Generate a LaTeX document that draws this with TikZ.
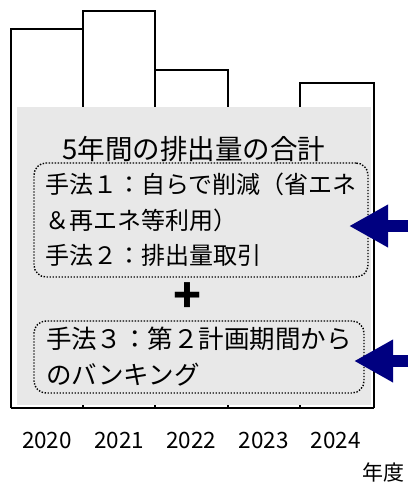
\documentclass[tikz,border=0pt]{standalone}
\usepackage{fontspec}
\setmainfont{Noto Sans CJK JP}
\usetikzlibrary{arrows.meta}
\definecolor{panel}{HTML}{E8E8E8}
\definecolor{navyarrow}{HTML}{000080}
\begin{document}
\begin{tikzpicture}[x={(1pt,0pt)}, y={(0pt,-1pt)},
    bar/.style={draw=black, line width=1.2pt},
    method/.style={draw=black, line width=1.4pt, dash pattern=on 1.4pt off 1.6pt,
        rounded corners=12pt, align=left, inner sep=0pt,
        font=\fontsize{24}{35.5}\selectfont},
    bigarrow/.style={navyarrow, line width=12pt, -{Triangle[length=39pt,width=40pt]}}]
    \useasboundingbox (0,0) rectangle (408,483);

    \foreach \xa/\xb/\h in {11/83/29, 83/155/11, 155/228/70, 228/300/112, 300/374/83}
        \draw[bar] (\xa,408) -- (\xa,\h) -- (\xb,\h) -- (\xb,408);
    \draw[bar] (11,408) -- (374,408);

    \fill[panel] (17,107) rectangle (371,405);

    \node (title) at (194,149) {\fontsize{27.5}{30}\selectfont 5年間の排出量の合計};
    \node[method, minimum width=334, minimum height=114] (m1) at (201,220)
        {手法１：自らで削減（省エネ\\＆再エネ等利用）\\手法２：排出量取引};
    \node (plus) at (188,298) {\fontsize{46}{46}\selectfont\bfseries +};
    \node[method, font=\fontsize{25.5}{36}\selectfont, minimum width=330, minimum height=72] (m2) at (199,357)
        {手法３：第２計画期間から\\のバンキング};

    \coordinate (a1) at (408,226);
    \coordinate (t1) at (349,226);
    \draw[bigarrow] (a1) -- (t1);
    \coordinate (a2) at (408,361);
    \coordinate (t2) at (354,361);
    \draw[bigarrow] (a2) -- (t2);

    \foreach \yr [count=\i] in {2020,2021,2022,2023,2024}
        \node[font=\fontsize{22.5}{24}\selectfont] (y\yr) at ({47+72.2*(\i-1)},440) {\yr};
    \node[font=\fontsize{21}{24}\selectfont] (unit) at (383,472) {年度};
\end{tikzpicture}
\end{document}
